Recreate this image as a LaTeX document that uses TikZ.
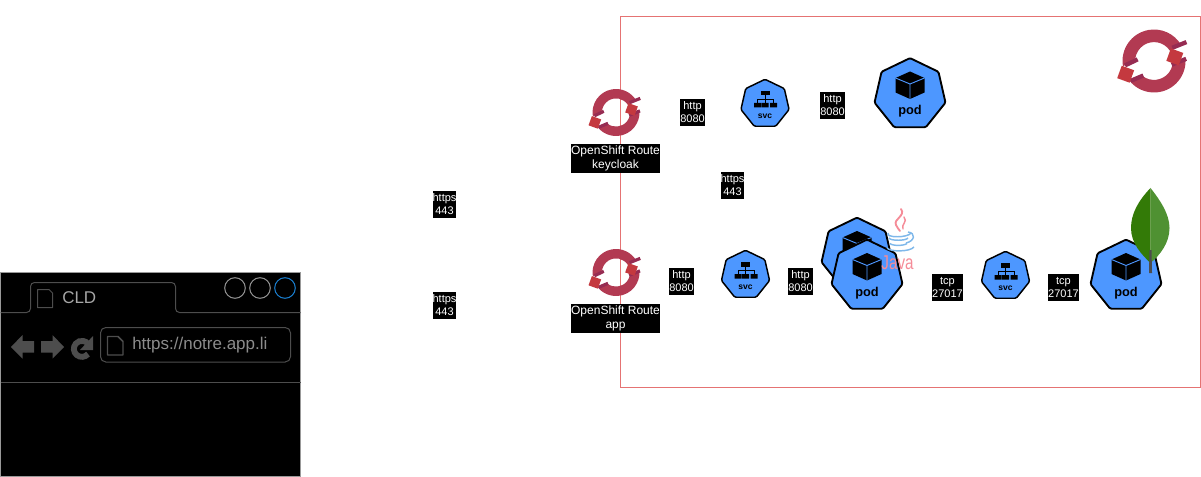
\documentclass[tikz,border=0pt]{standalone}
\usepackage{fontspec}
\setmainfont{Liberation Sans}
\definecolor{kblue}{HTML}{4D97FF}
\definecolor{frameRed}{HTML}{E57373}
\definecolor{osRing}{HTML}{B23A52}
\definecolor{osDark}{HTML}{962C52}
\definecolor{osSquare}{HTML}{C4393F}
\definecolor{chrome}{HTML}{4D4D4D}
\definecolor{javaPink}{HTML}{F58C98}
\definecolor{javaBlue}{HTML}{7FB8EA}
\definecolor{leafDark}{HTML}{337A07}
\definecolor{leafLight}{HTML}{4F9132}
\definecolor{tabBlue}{HTML}{1A7FD0}
\tikzset{
  x=0.75pt,y=-0.75pt,
  tag/.style={fill=black,text=white,font=\fontsize{8.25}{9.75}\selectfont,align=center,inner sep=0pt,minimum width=#1,minimum height=20.25pt},
  tag/.default=18.75pt,
  routetag/.style={fill=black,text=white,font=\fontsize{9}{10.7}\selectfont,align=center,inner sep=0pt,minimum width=66.75pt,minimum height=21.5pt},
  hept/.style={draw=black,fill=kblue,line width=1.4pt,line join=round,rounded corners=1pt},
  pics/kpod/.style={code={
    \draw[hept] (-90:36.4) -- (-38.57:36.4) -- (12.86:36.4) -- (64.29:36.4) -- (115.71:36.4) -- (167.14:36.4) -- (218.57:36.4) -- cycle;
    \fill[black] (0,-23) -- (14.5,-16.5) -- (14.5,-2) -- (0,4.5) -- (-14.5,-2) -- (-14.5,-16.5) -- cycle;
    \draw[kblue,line width=0.7pt] (-14.5,-16.5) -- (0,-10.5) -- (14.5,-16.5) (0,-10.5) -- (0,4.5);
    \node[font=\fontsize{9.6}{12}\selectfont\bfseries,inner sep=0pt] (-txt) at (0,17) {pod};
  }},
  pics/ksvc/.style={code={
    \draw[hept,line width=1.1pt] (-90:24.7) -- (-38.57:24.7) -- (12.86:24.7) -- (64.29:24.7) -- (115.71:24.7) -- (167.14:24.7) -- (218.57:24.7) -- cycle;
    \fill[black] (-4.5,-13) rectangle (4.5,-8.5);
    \fill[black] (-11,-1) rectangle (-4,3.5) (-3.5,-1) rectangle (3.5,3.5) (5,-1) rectangle (12,3.5);
    \draw[black,line width=0.7pt] (0,-8.5) -- (0,-1) (-7.5,-1) -- (-7.5,-4.5) -- (8.5,-4.5) -- (8.5,-1);
    \node[font=\fontsize{6.4}{8}\selectfont\bfseries,inner sep=0pt] (-txt) at (0,12) {svc};
  }},
  pics/oslogo/.style={code={
    \begin{scope}[yscale=-1]
    \fill[osRing] (190:1) arc[start angle=190,end angle=30,radius=1] -- (33:.6) arc[start angle=33,end angle=172,radius=.6] -- cycle;
    \fill[osRing] (5:1) arc[start angle=5,end angle=-142,radius=1] -- (232:.6) arc[start angle=232,end angle=349,radius=.6] -- cycle;
    \draw[osDark,line width=#1] (-.92,-.14) -- (-.52,.05);
    \draw[osDark,line width=#1] (.58,.42) -- (1.03,.6);
    \draw[osDark,line width=#1] (.56,-.12) -- (1.02,.07);
    \draw[osDark,line width=#1] (-.74,-.63) -- (-.34,-.46);
    \fill[osSquare,rotate around={20:(.66,.13)}] (.45,-.08) rectangle (.87,.34);
    \fill[osSquare,rotate around={20:(-.9,-.42)}] (-1.11,-.63) rectangle (-.69,-.21);
    \end{scope}
  }},
}
\begin{document}
\begin{tikzpicture}
\useasboundingbox (0,0) rectangle (1201,477);
% frame
\draw[frameRed,line width=0.75pt] (620.5,17) rectangle (1200.5,387);
% browser
\fill[black] (0.5,272.5) rectangle (300.5,476);
\draw[gray!80,line width=0.75pt] (0.5,272.5) rectangle (300.5,476);
\draw[chrome,line width=0.75pt,rounded corners=3pt] (0.5,312.5) -- (30.5,312.5) -- (30.5,282.5) -- (175.5,282.5) -- (175.5,312.5) -- (300.5,312.5);
\draw[chrome,line width=0.75pt] (0.5,382.5) -- (300.5,382.5);
\draw[gray!85,line width=0.75pt] (235,288) circle (10.3);
\draw[gray!85,line width=0.75pt] (260,288) circle (10.3);
\draw[tabBlue,line width=0.75pt] (285,288) circle (10.3);
\draw[chrome,line width=0.75pt,line join=round] (37.5,289.5) -- (49,289.5) -- (52.5,293) -- (52.5,307.5) -- (37.5,307.5) -- cycle;
\node[anchor=west,text=gray!70!white,font=\fontsize{12.75}{15}\selectfont,inner sep=0pt] (tabtitle) at (62,297.5) {CLD};
\fill[chrome] (11,347) -- (22.5,335) -- (22.5,341) -- (34,341) -- (34,352.5) -- (22.5,352.5) -- (22.5,358.5) -- cycle;
\fill[chrome] (64,347) -- (52.5,335) -- (52.5,341) -- (41,341) -- (41,352.5) -- (52.5,352.5) -- (52.5,358.5) -- cycle;
\draw[chrome,line width=4.4pt] (88,354) arc[start angle=40,end angle=320,radius=8];
\fill[chrome] (93,336) -- (93,350) -- (80,350) -- cycle;
\draw[chrome,line width=0.75pt,rounded corners=4pt] (100.5,327.5) rectangle (290.5,362);
\draw[chrome,line width=1.1pt,line join=round] (107.5,336.5) -- (118,336.5) -- (123,341.5) -- (123,355) -- (107.5,355) -- cycle;
\node[anchor=west,text=gray!90!white,font=\fontsize{12.75}{15}\selectfont,inner sep=0pt] (urltext) at (132,345.5) {https://notre.app.li};
% logos
\pic[scale=23.5] at (616,112.5) {oslogo=2.4pt};
\pic[scale=23.5] at (616,272.5) {oslogo=2.4pt};
\pic[scale=31.5] at (1154,61) {oslogo=3.2pt};
% services and pods
\pic (svcA) at (765,104) {ksvc};
\pic (podA) at (910,94.5) {kpod};
\pic (svcB) at (745.5,275) {ksvc};
\pic (podB) at (857,254) {kpod};
\pic (podC) at (867,276) {kpod};
\pic (svcC) at (1005.5,276) {ksvc};
\pic (podD) at (1126,276) {kpod};
% java logo
\draw[javaPink,line width=1.4pt,line cap=round] (901,209) .. controls (906,216) and (893,219) .. (896,225) .. controls (897,228) and (899,229) .. (900,231);
\draw[javaPink,line width=1.1pt,line cap=round] (904,217) .. controls (908,222) and (901,224) .. (903,229);
\draw[javaBlue,line width=1.1pt] (888,233) .. controls (885,238) and (908,238) .. (911,233);
\draw[javaBlue,line width=1.1pt] (889,238) .. controls (890,241) and (906,241) .. (908,238);
\draw[javaBlue,line width=1.1pt] (908,232) .. controls (916,233) and (915,241) .. (906,243);
\draw[javaBlue,line width=1.1pt] (890,243.5) .. controls (892,246) and (904,246) .. (907,243.5);
\draw[javaBlue,line width=1.1pt] (887,248) .. controls (890,252) and (910,252) .. (914,247);
\node[text=javaPink,font=\fontsize{15}{17}\selectfont,inner sep=0pt,xscale=0.76] (javatxt) at (897.5,263) {Java};
% mongo leaf
\fill[leafDark] (1150.5,188) .. controls (1138,201) and (1131,214) .. (1131,228) .. controls (1131,243) and (1141,254) .. (1150.5,263) -- cycle;
\fill[leafLight] (1150.5,188) .. controls (1160,200) and (1169.5,214) .. (1169.5,228) .. controls (1169.5,243) and (1160,255) .. (1150.5,263) -- cycle;
\fill[chrome] (1149.5,250) -- (1151.5,250) -- (1152,273) -- (1149,273) -- cycle;
% tags
\node[tag=17.25pt] (t1) at (444.5,204.5) {https\\443};
\node[tag=17.25pt] (t2) at (444.5,305.5) {https\\443};
\node[tag] (t3) at (692.5,112.5) {http\\8080};
\node[tag] (t4) at (832.5,105.5) {http\\8080};
\node[tag=17.25pt] (t5) at (732.5,185.5) {https\\443};
\node[tag] (t6) at (681.5,281.5) {http\\8080};
\node[tag] (t7) at (800.5,281.5) {http\\8080};
\node[tag=23.25pt] (t8) at (947.5,287.5) {tcp\\27017};
\node[tag=23.25pt] (t9) at (1063.5,287.5) {tcp\\27017};
\node[routetag] (r1) at (615.5,158.5) {OpenShift Route\\keycloak};
\node[routetag] (r2) at (615.5,318.5) {OpenShift Route\\app};
\end{tikzpicture}
\end{document}
